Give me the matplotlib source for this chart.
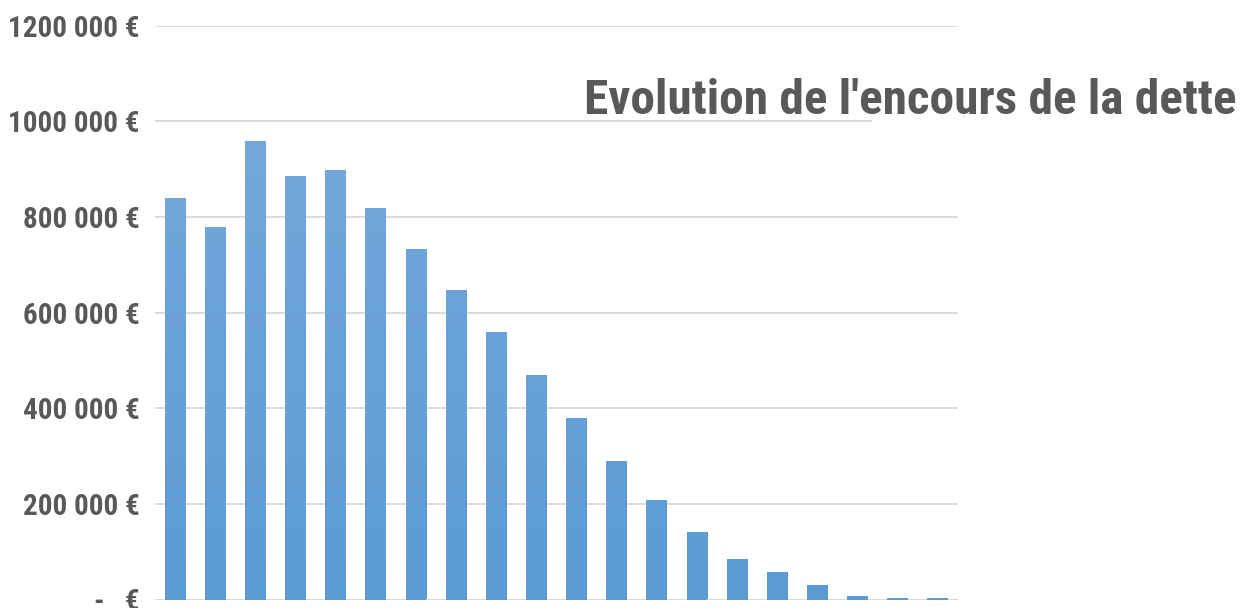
import matplotlib.pyplot as plt
import numpy as np
from matplotlib.colors import LinearSegmentedColormap
from matplotlib.patches import Rectangle

# values (euros)
years = list(range(1, 21))
encours = [840000, 779000, 959000, 886000, 899000, 819000, 733000, 647000,
           560000, 470000, 380000, 290000, 208000, 141000, 85000, 57000,
           30000, 7500, 3000, 3000]
yticks = [0, 200000, 400000, 600000, 800000, 1000000, 1200000]
ytick_labels = ['-   €', '200 000 €', '400 000 €', '600 000 €',
                '800 000 €', '1000 000 €', '1200 000 €']
title = "Evolution de l'encours de la dette"

grey = '#595959'
fonts = ['Roboto Condensed', 'Open Sans Condensed', 'Roboto', 'DejaVu Sans']

fig = plt.figure(figsize=(12.43, 6.08), dpi=100)
ax = fig.add_axes([155 / 1243, (608 - 599.5) / 608, (958 - 155) / 1243, (599.5 - 25.7) / 608])

bars = ax.bar(years, encours, width=0.52, color='#5b9bd5', zorder=2)

# Excel-like vertical gradient inside every bar
cmap = LinearSegmentedColormap.from_list('bar', ['#5b9bd5', '#74a8db'])
grad = np.linspace(0, 1, 256).reshape(-1, 1)
for b in bars:
    im = ax.imshow(grad, cmap=cmap, aspect='auto', origin='lower',
                   extent=[b.get_x(), b.get_x() + b.get_width(), 0, 960000], zorder=2.5)
    im.set_clip_path(b)
ax.set_xlim(0.5, 20.5)
ax.set_ylim(0, 1200000)

ax.set_yticks(yticks)
ax.set_yticklabels(ytick_labels, fontsize=21, fontweight='bold', color=grey, family=fonts)
ax.tick_params(axis='y', length=0, pad=11)
ax.set_xticks([])
ax.grid(axis='y', color='#d9d9d9', linewidth=1.3, zorder=0)
ax.set_axisbelow(True)
for s in ax.spines.values():
    s.set_visible(False)
ax.axhline(0, color='#d9d9d9', linewidth=2, zorder=1)

# white box of the title hides the end of the 1 000 000 gridline
fig.patches.append(Rectangle((872 / 1243, (608 - 135) / 608), (1243 - 872) / 1243, 25 / 608,
                             transform=fig.transFigure, facecolor='white', edgecolor='none', zorder=3))
fig.text(1237 / 1243, (608 - 101) / 608, title, ha='right', va='center',
         fontsize=35.5, fontweight='bold', color=grey, family=fonts, zorder=4)

fig.savefig('out.png', dpi=100)
